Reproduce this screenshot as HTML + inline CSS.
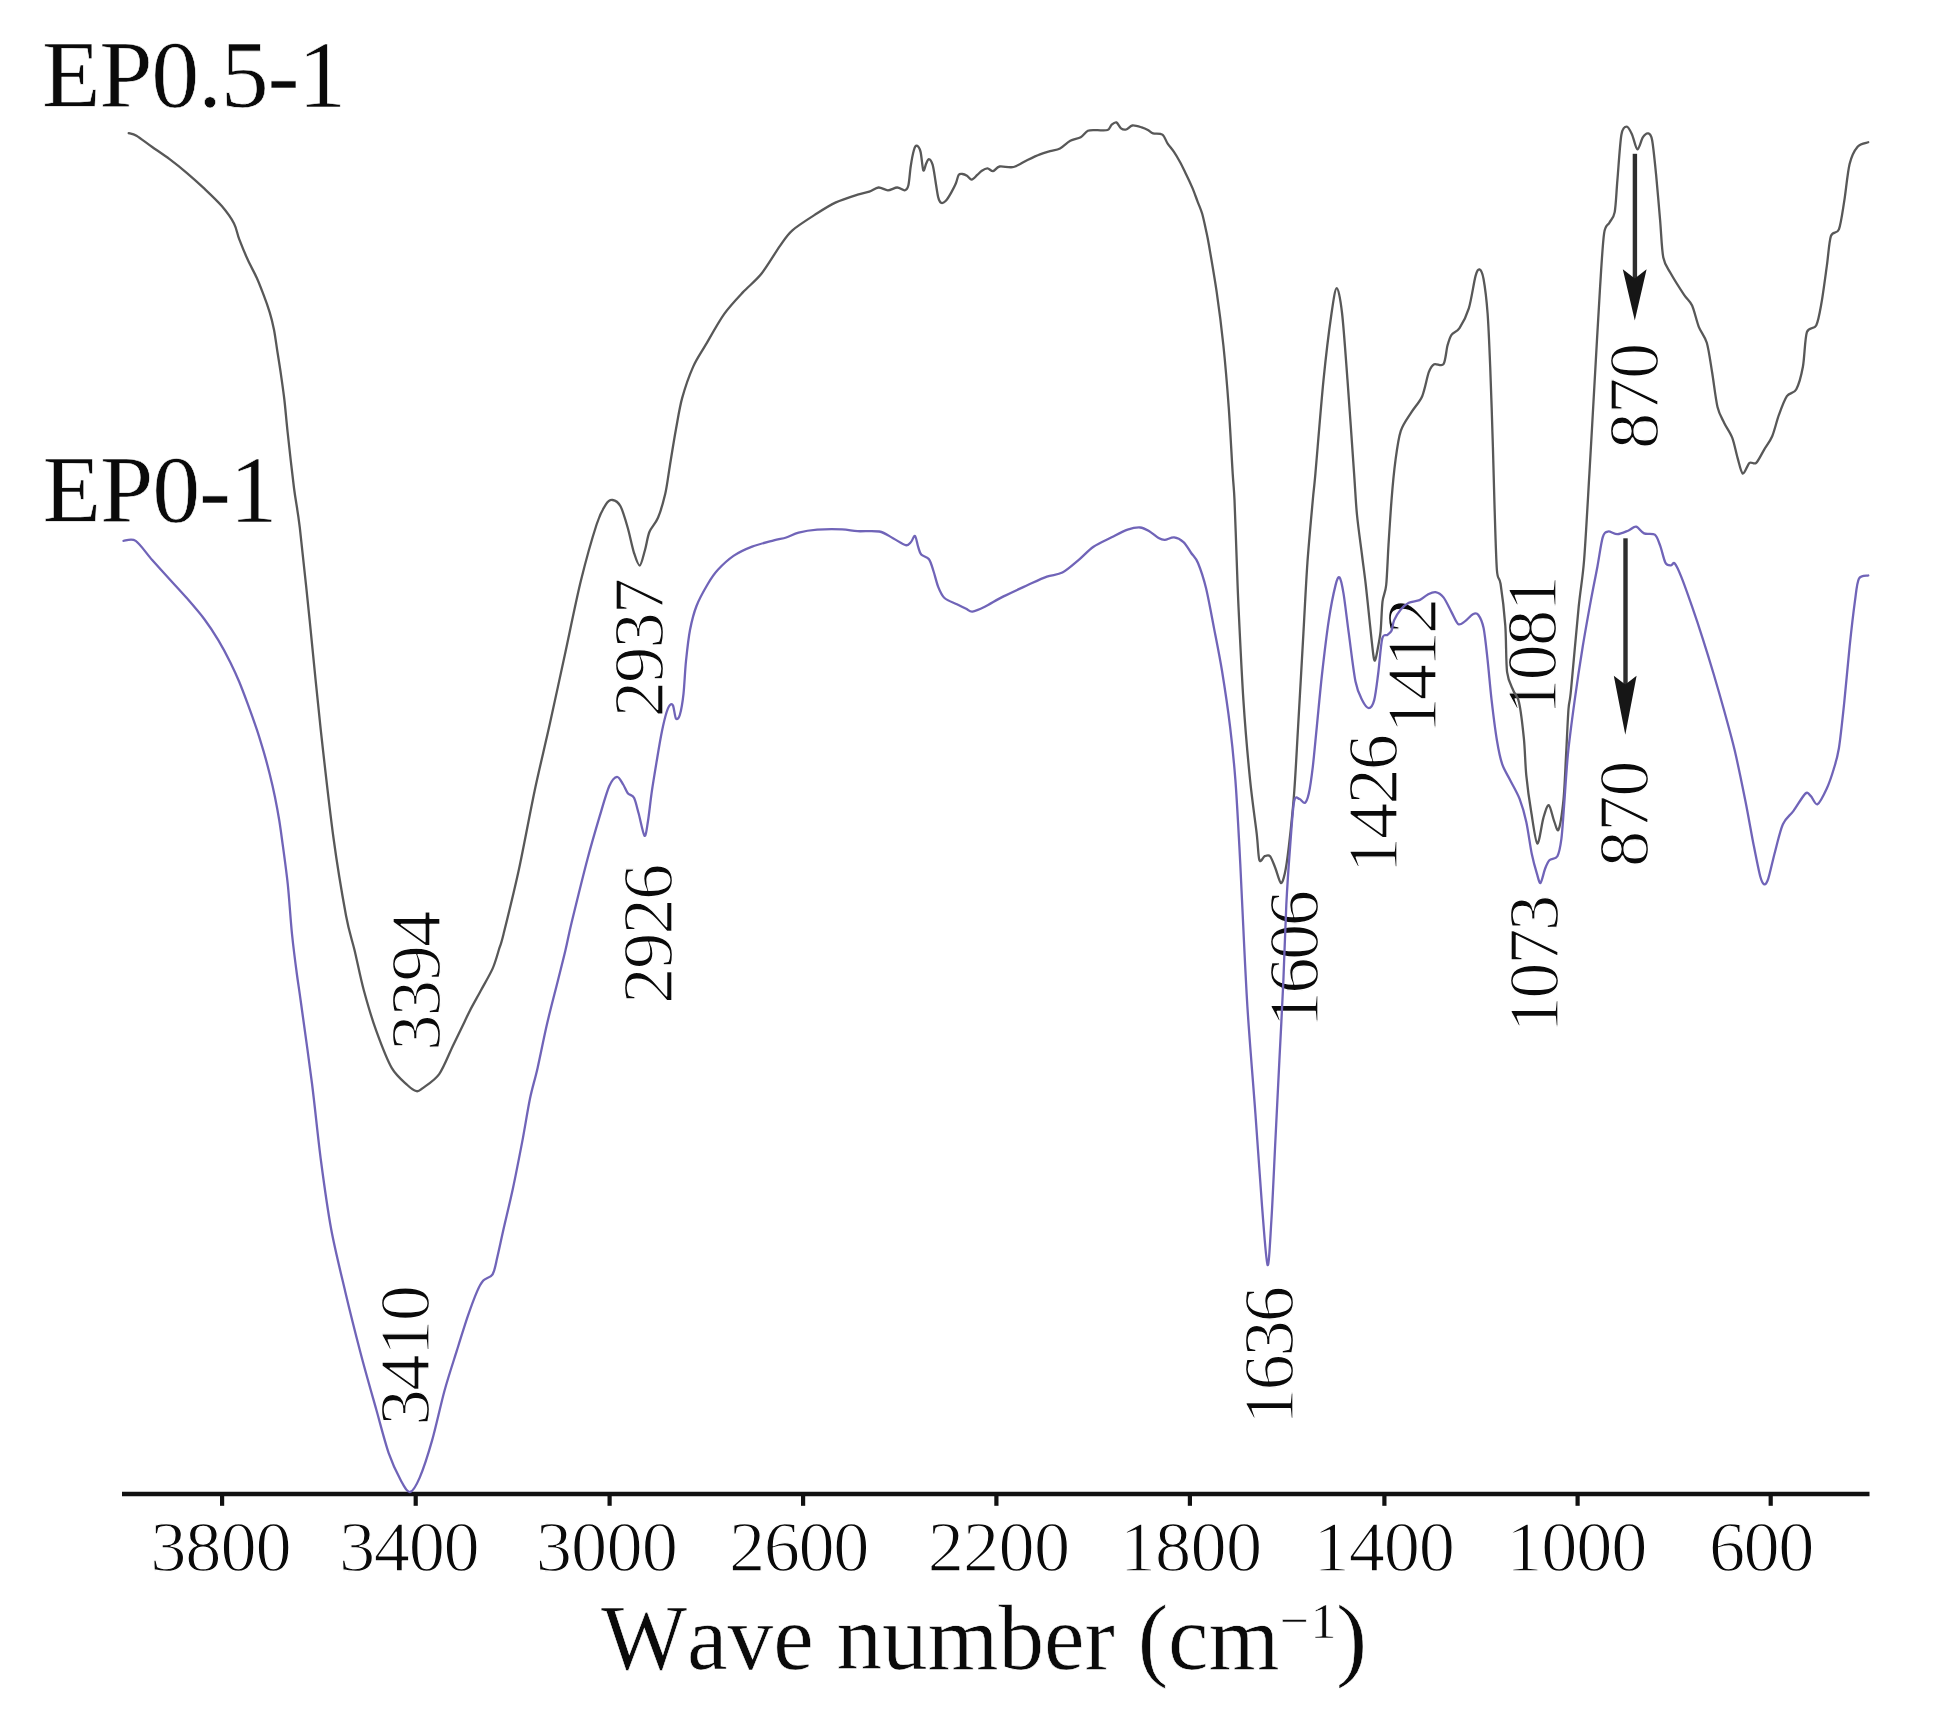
<!DOCTYPE html>
<html><head><meta charset="utf-8"><title>FTIR spectra</title>
<style>
html,body{margin:0;padding:0;background:#fff}
body{width:1934px;height:1724px;overflow:hidden}
svg{display:block;filter:blur(0.7px)}
text{font-family:"Liberation Serif","Times New Roman",serif;fill:#0a0a0a;font-kerning:none;stroke:#fff;stroke-width:0.6px}
.t text{stroke:#fff;stroke-width:1.3px;stroke-linejoin:round}
</style></head><body>
<svg width="1934" height="1724" viewBox="0 0 1934 1724">
<rect width="1934" height="1724" fill="#fff"/>
<line x1="122" y1="1494" x2="1869.5" y2="1494" stroke="#111" stroke-width="4.5"/>
<line x1="222.1" y1="1494" x2="222.1" y2="1505.8" stroke="#111" stroke-width="4.2"/><line x1="415.7" y1="1494" x2="415.7" y2="1505.8" stroke="#111" stroke-width="4.2"/><line x1="609.6" y1="1494" x2="609.6" y2="1505.8" stroke="#111" stroke-width="4.2"/><line x1="803.1" y1="1494" x2="803.1" y2="1505.8" stroke="#111" stroke-width="4.2"/><line x1="996.4" y1="1494" x2="996.4" y2="1505.8" stroke="#111" stroke-width="4.2"/><line x1="1189.9" y1="1494" x2="1189.9" y2="1505.8" stroke="#111" stroke-width="4.2"/><line x1="1384.4" y1="1494" x2="1384.4" y2="1505.8" stroke="#111" stroke-width="4.2"/><line x1="1577.6" y1="1494" x2="1577.6" y2="1505.8" stroke="#111" stroke-width="4.2"/><line x1="1770.7" y1="1494" x2="1770.7" y2="1505.8" stroke="#111" stroke-width="4.2"/>
<g id="arrows" fill="#161616" stroke="none">
<rect x="1632.7" y="153.8" width="4.4" height="126" fill="#2e2e2e"/>
<path d="M1634.8 320.6 L1622.8 269.2 L1634.8 278.6 L1646.6 269.2 Z"/>
<rect x="1623.3" y="538.3" width="4.4" height="147" fill="#2e2e2e"/>
<path d="M1625.3 734.8 L1613.8 675.8 L1625.3 684.4 L1636.6 675.8 Z"/>
</g>
<g class="t">
<text transform="translate(439.6 1050.8) rotate(-90)" font-size="72.5" letter-spacing="-1.65">3394</text>
<text transform="translate(429.2 1425.5) rotate(-90)" font-size="72.5" letter-spacing="-1.51">3410</text>
<text transform="translate(662.9 717.3) rotate(-90)" font-size="72.5" letter-spacing="-1.91">2937</text>
<text transform="translate(671.9 1003.7) rotate(-90)" font-size="72.5" letter-spacing="-1.65">2926</text>
<text transform="translate(1318.0 1027.5) rotate(-90)" font-size="72.5" letter-spacing="-2.51">1606</text>
<text transform="translate(1293.1 1424.7) rotate(-90)" font-size="72.5" letter-spacing="-2.14">1636</text>
<text transform="translate(1396.7 873.3) rotate(-90)" font-size="72.5" letter-spacing="-1.89">1426</text>
<text transform="translate(1436.1 733.6) rotate(-90)" font-size="72.5" letter-spacing="-3.02">1412</text>
<text transform="translate(1555.9 715.0) rotate(-90)" font-size="72.5" letter-spacing="-1.76">1081</text>
<text transform="translate(1558.0 1032.6) rotate(-90)" font-size="72.5" letter-spacing="-2.35">1073</text>
<text transform="translate(1657.8 448.9) rotate(-90)" font-size="72.5" letter-spacing="-1.32">870</text>
<text transform="translate(1647.8 867.0) rotate(-90)" font-size="72.5" letter-spacing="-1.11">870</text>
<text x="150.2" y="1571.4" font-size="72.4" letter-spacing="-1.10">3800</text>
<text x="339.0" y="1571.4" font-size="72.4" letter-spacing="-1.33">3400</text>
<text x="535.8" y="1571.4" font-size="72.4" letter-spacing="-0.89">3000</text>
<text x="729.1" y="1571.4" font-size="72.4" letter-spacing="-1.51">2600</text>
<text x="927.7" y="1571.4" font-size="72.4" letter-spacing="-0.76">2200</text>
<text x="1119.7" y="1571.4" font-size="72.4" letter-spacing="-0.78">1800</text>
<text x="1313.6" y="1571.4" font-size="72.4" letter-spacing="-1.16">1400</text>
<text x="1506.2" y="1571.4" font-size="72.4" letter-spacing="-1.18">1000</text>
<text x="1708.9" y="1571.4" font-size="72.4" letter-spacing="-1.55">600</text>
</g>
<text x="41.9" y="107.0" font-size="96.0" letter-spacing="-1.30">EP0.5-1</text>
<text x="42.6" y="521.5" font-size="96.0" letter-spacing="-1.25">EP0-1</text>
<text x="601" y="1668.5" font-size="93.5" textLength="678.5" lengthAdjust="spacingAndGlyphs">Wave number (cm</text>
<text x="1279.5" y="1638.4" font-size="51.5">−</text>
<text x="1310.5" y="1638.4" font-size="51.5">1</text>
<text x="1336" y="1668.5" font-size="93.5">)</text>
<path d="M128.7 133.1 C129.9 133.5 133.0 133.6 136.5 135.7 C140.0 137.8 147.2 143.5 152.2 147.0 C157.2 150.5 164.4 155.3 169.6 159.2 C174.8 163.1 181.8 168.7 187.0 173.1 C192.2 177.5 199.2 183.8 204.4 188.7 C209.6 193.6 217.4 200.9 221.8 206.1 C226.2 211.3 231.4 218.5 234.0 223.5 C236.6 228.5 237.1 233.7 239.2 239.2 C241.3 244.7 245.3 254.4 247.9 260.1 C250.5 265.8 254.2 272.3 256.6 277.5 C259.0 282.7 261.6 289.7 263.6 294.9 C265.6 300.1 268.1 307.1 269.7 312.3 C271.3 317.5 272.8 323.7 274.0 329.7 C275.2 335.7 276.4 345.5 277.5 352.3 C278.6 359.1 280.0 367.7 281.0 374.9 C282.0 382.1 283.4 391.4 284.4 400.0 C285.4 408.6 286.2 418.8 287.6 432.0 C289.0 445.2 292.2 473.7 294.0 488.0 C295.8 502.3 297.4 507.7 299.8 527.6 C302.2 547.5 306.6 590.4 309.7 620.7 C312.8 651.0 317.1 696.7 320.7 729.3 C324.3 761.9 329.7 810.1 333.5 838.0 C337.3 865.9 342.9 898.7 346.0 915.5 C349.1 932.3 351.8 938.8 354.5 950.0 C357.2 961.2 360.5 978.2 363.8 990.3 C367.1 1002.4 372.0 1019.1 376.2 1030.7 C380.4 1042.3 387.0 1059.8 391.7 1067.9 C396.4 1076.0 403.6 1081.5 407.3 1085.0 C411.0 1088.5 414.3 1090.7 416.6 1091.2 C418.9 1091.7 419.4 1090.7 422.8 1088.1 C426.2 1085.5 434.7 1080.4 439.2 1074.1 C443.7 1067.8 448.9 1054.1 452.7 1046.2 C456.5 1038.3 462.1 1026.8 464.7 1021.4 C467.3 1016.0 467.6 1015.1 470.0 1010.4 C472.4 1005.7 477.6 996.6 481.0 990.3 C484.4 984.0 489.9 974.6 492.6 968.6 C495.3 962.6 497.2 955.2 498.8 950.0 C500.4 944.8 500.5 946.4 503.5 934.2 C506.5 922.1 514.4 890.4 519.0 869.0 C523.6 847.6 529.9 813.3 534.5 791.4 C539.1 769.5 545.4 744.1 550.0 723.1 C554.6 702.1 560.9 673.1 565.5 651.7 C570.1 630.3 576.3 599.4 581.0 580.3 C585.7 561.2 592.9 535.9 596.6 524.5 C600.3 513.1 603.5 508.0 605.9 504.3 C608.3 500.6 610.3 499.7 612.5 500.0 C614.7 500.3 618.2 502.1 620.5 506.3 C622.8 510.5 625.8 521.0 627.8 528.0 C629.8 535.0 632.2 547.2 634.0 552.8 C635.8 558.4 638.1 565.9 639.8 565.5 C641.4 565.1 643.5 555.1 645.0 550.0 C646.5 544.9 647.5 536.6 649.5 531.8 C651.5 527.0 655.6 523.5 658.0 517.8 C660.4 512.1 663.4 501.8 665.2 494.1 C667.0 486.4 668.2 476.0 669.8 466.2 C671.4 456.4 674.1 439.2 676.0 429.0 C677.9 418.8 679.6 407.2 682.2 397.9 C684.8 388.6 689.6 374.8 693.1 366.9 C696.6 359.0 700.9 353.1 705.5 345.2 C710.1 337.3 718.5 322.0 724.1 314.1 C729.7 306.2 737.2 298.4 742.8 292.4 C748.4 286.4 755.8 280.8 761.4 273.8 C767.0 266.8 775.4 252.4 780.0 245.9 C784.6 239.4 786.8 235.2 792.4 230.3 C798.0 225.4 810.7 217.5 817.2 213.3 C823.7 209.1 829.8 205.2 835.9 202.4 C842.0 199.6 852.6 196.3 857.6 194.7 C862.6 193.1 866.1 192.8 869.3 191.7 C872.4 190.6 875.8 187.7 878.6 187.5 C881.4 187.3 885.1 190.3 887.9 190.3 C890.7 190.3 894.7 187.5 897.2 187.5 C899.7 187.5 903.0 190.6 904.7 190.3 C906.4 190.0 907.5 188.8 908.4 185.2 C909.3 181.6 909.9 171.8 910.7 166.5 C911.5 161.2 913.1 152.9 914.0 149.8 C914.9 146.7 915.8 145.3 916.8 145.6 C917.8 145.9 919.5 147.9 920.5 151.6 C921.5 155.3 922.5 168.5 923.3 170.3 C924.1 172.1 925.3 165.4 926.1 163.7 C926.9 162.0 927.9 158.9 928.9 159.1 C929.9 159.2 931.6 161.5 932.6 164.7 C933.6 167.9 934.6 175.6 935.4 180.5 C936.2 185.4 937.4 194.0 938.2 197.3 C939.0 200.6 939.9 202.2 941.0 202.8 C942.1 203.4 944.1 202.5 945.6 201.0 C947.1 199.5 949.7 195.3 951.2 192.6 C952.7 189.9 954.8 186.0 955.9 183.3 C957.0 180.6 957.7 176.3 958.7 174.9 C959.7 173.5 961.2 173.9 962.4 174.0 C963.6 174.1 965.6 175.0 967.0 175.8 C968.4 176.6 970.2 179.7 971.7 179.6 C973.2 179.5 975.8 176.2 977.3 174.9 C978.8 173.6 980.4 171.7 981.9 170.7 C983.4 169.7 985.8 168.3 987.5 168.4 C989.2 168.5 991.3 171.5 993.1 171.2 C994.9 170.9 996.5 167.1 999.6 166.5 C1002.7 165.9 1009.4 168.0 1013.6 167.0 C1017.8 166.0 1023.5 161.9 1027.5 160.0 C1031.5 158.1 1036.6 155.7 1040.0 154.4 C1043.4 153.1 1047.0 152.1 1050.0 151.2 C1053.0 150.3 1057.0 150.2 1060.0 148.6 C1063.0 147.0 1067.2 142.5 1070.3 140.8 C1073.4 139.1 1078.1 138.7 1080.7 137.2 C1083.3 135.7 1085.5 131.9 1087.9 130.8 C1090.3 129.8 1094.0 130.3 1097.0 130.2 C1100.0 130.1 1105.4 130.8 1107.6 130.0 C1109.8 129.2 1110.4 125.7 1111.7 124.6 C1113.0 123.5 1115.0 121.8 1116.4 122.4 C1117.8 123.0 1119.5 127.3 1121.0 128.4 C1122.5 129.5 1124.5 129.9 1126.2 129.5 C1127.9 129.1 1130.1 125.8 1132.4 125.5 C1134.7 125.2 1139.4 126.7 1141.7 127.4 C1144.0 128.1 1146.2 129.1 1147.9 130.0 C1149.6 130.9 1150.9 132.7 1153.1 133.4 C1155.3 134.1 1160.2 133.1 1162.4 134.6 C1164.6 136.1 1165.8 140.8 1167.5 143.4 C1169.2 146.0 1171.9 148.9 1173.8 151.7 C1175.7 154.5 1178.1 158.6 1180.0 162.0 C1181.9 165.4 1184.3 170.6 1186.2 174.5 C1188.1 178.4 1190.7 183.9 1192.4 187.9 C1194.1 191.9 1196.0 197.4 1197.5 201.3 C1199.0 205.2 1201.0 209.6 1202.2 213.8 C1203.4 218.0 1204.8 224.7 1205.8 229.3 C1206.8 234.0 1207.3 235.4 1208.9 244.8 C1210.5 254.2 1214.5 277.0 1216.7 292.1 C1218.9 307.2 1221.6 328.3 1223.4 345.5 C1225.2 362.7 1227.3 387.7 1228.7 406.9 C1230.1 426.1 1231.8 459.6 1232.7 473.6 C1233.6 487.6 1233.9 487.0 1234.5 500.0 C1235.1 513.0 1236.1 544.0 1236.7 560.0 C1237.3 576.0 1237.5 585.7 1238.5 606.7 C1239.5 627.7 1241.7 674.1 1243.4 700.1 C1245.1 726.1 1248.1 760.2 1250.1 780.2 C1252.1 800.2 1255.3 821.6 1256.7 833.6 C1258.1 845.6 1258.2 856.8 1259.4 860.2 C1260.6 863.6 1263.1 856.8 1264.7 856.2 C1266.3 855.6 1268.5 854.4 1270.1 856.2 C1271.7 858.0 1273.8 864.2 1275.4 868.2 C1277.0 872.2 1279.4 882.1 1280.8 882.9 C1282.2 883.7 1283.6 879.0 1284.8 873.6 C1286.0 868.2 1287.4 858.9 1288.8 846.9 C1290.2 834.9 1292.7 811.5 1294.1 793.5 C1295.5 775.5 1296.7 750.8 1298.1 726.8 C1299.5 702.8 1302.0 658.0 1303.4 633.4 C1304.8 608.8 1306.0 583.0 1307.4 563.0 C1308.8 543.0 1311.6 513.4 1312.8 500.0 C1314.0 486.6 1313.8 491.6 1315.4 473.6 C1317.0 455.6 1321.1 404.2 1323.5 380.2 C1325.9 356.2 1329.5 327.3 1331.5 313.5 C1333.5 299.7 1335.2 288.1 1336.8 288.1 C1338.4 288.1 1340.5 299.7 1342.1 313.5 C1343.7 327.3 1345.7 356.2 1347.5 380.2 C1349.3 404.2 1352.7 453.4 1354.1 473.6 C1355.5 493.8 1355.8 502.8 1357.0 515.0 C1358.2 527.2 1360.7 544.5 1362.0 555.0 C1363.3 565.5 1364.7 575.2 1365.8 585.0 C1366.9 594.8 1368.4 609.6 1369.5 620.0 C1370.6 630.4 1372.4 647.9 1373.2 654.0 C1374.0 660.1 1374.4 661.1 1375.0 660.5 C1375.6 659.9 1376.7 654.4 1377.5 650.0 C1378.3 645.6 1379.8 638.6 1380.6 631.4 C1381.3 624.2 1381.7 608.7 1382.5 601.7 C1383.3 594.7 1385.3 593.5 1386.2 585.0 C1387.1 576.5 1387.7 557.7 1388.5 545.0 C1389.3 532.3 1390.5 513.0 1391.5 500.3 C1392.5 487.6 1394.1 470.6 1395.5 460.2 C1396.9 449.8 1398.4 438.1 1400.8 430.9 C1403.2 423.7 1408.3 417.4 1411.5 412.2 C1414.7 407.0 1419.6 402.2 1422.2 396.2 C1424.8 390.2 1427.0 377.0 1428.8 372.2 C1430.6 367.4 1432.0 365.4 1434.2 364.2 C1436.4 363.0 1441.5 367.0 1443.5 364.2 C1445.5 361.4 1446.3 349.9 1447.5 345.5 C1448.7 341.1 1449.7 337.4 1451.5 334.8 C1453.3 332.2 1456.9 332.2 1459.5 328.2 C1462.1 324.2 1466.5 315.9 1468.9 308.1 C1471.3 300.3 1473.9 281.9 1475.5 276.1 C1477.1 270.3 1478.3 269.0 1479.5 269.4 C1480.7 269.8 1482.3 272.2 1483.5 278.8 C1484.7 285.4 1486.6 300.3 1487.6 313.5 C1488.6 326.7 1489.4 346.8 1490.2 366.8 C1491.0 386.8 1492.3 426.2 1492.9 446.9 C1493.5 467.6 1493.9 486.5 1494.5 505.0 C1495.1 523.5 1496.0 558.1 1496.9 570.0 C1497.8 581.9 1499.3 575.6 1500.6 584.0 C1501.9 592.4 1504.3 612.5 1505.3 625.7 C1506.3 638.9 1505.9 662.4 1507.1 672.1 C1508.3 681.9 1511.6 686.2 1513.4 690.7 C1515.2 695.2 1517.4 695.0 1519.0 702.2 C1520.6 709.4 1522.8 727.7 1523.9 738.7 C1525.0 749.7 1525.2 764.3 1526.3 775.3 C1527.4 786.3 1529.5 801.6 1531.2 811.8 C1532.9 822.0 1535.5 842.6 1537.3 843.5 C1539.1 844.4 1541.7 823.7 1543.4 817.9 C1545.1 812.1 1547.2 804.5 1548.8 805.1 C1550.4 805.7 1552.8 817.9 1554.3 821.6 C1555.8 825.3 1557.2 832.8 1558.6 829.5 C1560.0 826.2 1562.3 811.4 1563.5 799.6 C1564.7 787.8 1565.5 764.5 1566.3 750.9 C1567.0 737.3 1567.8 718.1 1568.5 709.0 C1569.2 699.9 1569.5 705.3 1571.0 690.0 C1572.5 674.7 1576.7 626.2 1578.7 606.7 C1580.7 587.2 1582.5 580.0 1584.1 560.0 C1585.7 540.0 1587.8 500.6 1589.4 473.6 C1591.0 446.6 1593.1 408.2 1594.7 380.2 C1596.3 352.2 1598.7 308.8 1600.1 286.8 C1601.5 264.8 1602.7 243.0 1604.1 233.4 C1605.5 223.8 1607.8 225.9 1609.4 222.7 C1611.0 219.5 1613.5 218.5 1614.7 212.1 C1615.9 205.7 1616.4 191.7 1617.4 180.1 C1618.4 168.5 1620.0 142.7 1621.4 134.7 C1622.8 126.7 1625.2 126.7 1626.8 126.7 C1628.4 126.7 1630.5 131.3 1632.1 134.7 C1633.7 138.1 1635.8 149.0 1637.4 149.4 C1639.0 149.8 1641.2 139.8 1642.8 137.4 C1644.4 135.0 1646.7 133.0 1648.1 133.4 C1649.5 133.8 1650.9 133.8 1652.1 140.0 C1653.3 146.2 1654.9 162.7 1656.1 174.7 C1657.3 186.7 1659.0 207.7 1660.1 220.1 C1661.2 232.5 1661.7 249.4 1663.3 257.4 C1664.9 265.4 1667.7 267.9 1670.8 273.5 C1673.9 279.1 1680.9 290.0 1684.1 294.8 C1687.3 299.6 1689.9 300.7 1692.1 305.5 C1694.3 310.3 1696.6 321.2 1698.8 326.8 C1701.0 332.4 1704.8 336.0 1706.8 342.8 C1708.8 349.6 1710.5 362.6 1712.1 372.2 C1713.7 381.8 1715.7 399.3 1717.5 406.9 C1719.3 414.5 1722.0 418.3 1724.2 422.9 C1726.4 427.5 1730.2 432.4 1732.2 437.6 C1734.2 442.8 1735.9 452.2 1737.5 457.6 C1739.1 463.0 1741.0 472.8 1742.8 473.6 C1744.6 474.4 1747.5 464.5 1749.5 462.9 C1751.5 461.3 1754.0 464.9 1756.2 462.9 C1758.4 460.9 1761.8 453.6 1764.2 449.6 C1766.6 445.6 1770.0 441.4 1772.2 436.2 C1774.4 431.0 1776.7 420.9 1778.9 414.9 C1781.1 408.9 1784.3 400.0 1786.9 396.2 C1789.5 392.4 1793.8 393.9 1796.2 389.5 C1798.6 385.1 1801.3 375.4 1802.9 366.8 C1804.5 358.2 1804.9 338.4 1806.9 332.2 C1808.9 326.0 1814.0 329.9 1816.2 325.5 C1818.4 321.1 1819.9 311.8 1821.5 302.8 C1823.1 293.8 1825.5 275.4 1826.9 265.4 C1828.3 255.4 1829.1 241.5 1830.9 236.1 C1832.7 230.7 1836.9 234.6 1838.9 229.4 C1840.9 224.2 1842.6 211.2 1844.2 201.4 C1845.8 191.6 1847.6 172.2 1849.6 164.0 C1851.6 155.8 1854.8 150.0 1857.6 146.7 C1860.4 143.4 1866.6 142.9 1868.2 142.2" fill="none" stroke="#585858" stroke-width="2.3" stroke-linejoin="round" stroke-linecap="round"/>
<path d="M123.5 540.9 C125.3 540.9 131.4 538.0 135.7 540.9 C140.0 543.8 147.1 554.3 152.2 560.0 C157.3 565.7 164.4 573.5 169.6 579.2 C174.8 584.9 181.8 592.3 187.0 598.3 C192.2 604.3 199.7 612.9 204.4 619.2 C209.1 625.5 214.4 633.6 218.3 640.1 C222.2 646.6 227.4 656.4 230.5 662.7 C233.6 669.0 236.6 675.5 239.2 681.8 C241.8 688.1 245.3 697.4 247.9 704.4 C250.5 711.4 254.2 721.8 256.6 728.8 C259.0 735.8 261.6 744.6 263.6 751.4 C265.6 758.2 268.0 767.2 269.7 774.0 C271.4 780.8 273.5 789.8 274.9 796.7 C276.3 803.6 278.2 813.8 279.2 820.0 C280.2 826.2 280.5 828.3 281.8 838.0 C283.1 847.7 286.3 870.1 287.8 884.5 C289.3 898.9 290.6 920.4 292.0 934.0 C293.4 947.6 295.6 964.6 297.0 975.0 C298.4 985.4 298.8 986.7 301.0 1003.0 C303.2 1019.3 309.0 1059.8 312.0 1083.5 C315.0 1107.2 318.1 1139.1 321.0 1161.0 C323.9 1182.9 327.6 1209.7 331.2 1229.3 C334.8 1248.9 340.8 1272.8 345.2 1291.4 C349.6 1310.0 356.1 1335.8 360.7 1353.5 C365.3 1371.2 372.0 1394.4 376.2 1409.3 C380.4 1424.2 384.9 1442.1 388.6 1452.8 C392.3 1463.5 397.8 1474.8 401.0 1480.7 C404.2 1486.6 407.2 1492.5 410.0 1492.0 C412.8 1491.5 416.4 1485.3 419.7 1477.6 C423.0 1469.9 428.4 1453.4 432.1 1440.4 C435.8 1427.4 440.8 1404.2 444.5 1390.7 C448.2 1377.2 453.4 1361.6 456.9 1350.4 C460.4 1339.2 464.8 1325.0 467.8 1316.2 C470.8 1307.4 474.8 1296.8 477.1 1291.4 C479.4 1286.0 481.0 1283.1 483.3 1280.5 C485.6 1277.9 490.5 1277.8 492.6 1274.3 C494.7 1270.8 495.7 1264.0 497.3 1257.3 C498.9 1250.5 501.2 1239.5 503.5 1229.3 C505.8 1219.1 510.0 1202.0 512.8 1189.0 C515.6 1176.0 519.5 1155.9 522.1 1142.4 C524.7 1128.9 527.6 1110.2 529.9 1099.0 C532.2 1087.8 535.1 1079.1 537.6 1067.9 C540.1 1056.7 543.9 1037.5 546.9 1024.5 C549.9 1011.5 555.0 992.2 557.8 981.0 C560.6 969.8 563.4 958.9 565.5 950.0 C567.6 941.1 568.5 935.2 571.8 921.7 C575.1 908.2 583.1 875.5 587.3 859.7 C591.5 843.9 596.4 827.3 599.7 816.2 C603.0 805.1 606.7 791.9 609.3 786.0 C611.9 780.1 614.9 777.0 617.0 776.8 C619.1 776.6 621.6 782.0 623.2 784.5 C624.8 787.0 626.2 791.2 627.8 793.2 C629.4 795.2 632.4 794.8 634.0 797.8 C635.6 800.8 637.0 807.6 638.6 813.3 C640.2 819.0 643.1 834.6 644.5 835.8 C645.9 837.0 646.9 827.6 648.0 821.0 C649.1 814.4 650.4 801.1 651.8 791.6 C653.2 782.1 655.8 766.6 657.3 757.5 C658.8 748.4 660.6 737.8 662.0 731.0 C663.4 724.2 665.3 716.4 666.5 712.5 C667.7 708.6 669.0 706.0 670.0 705.0 C671.0 704.0 672.1 703.5 673.0 705.5 C673.9 707.5 675.0 717.2 676.0 718.6 C677.0 720.0 678.7 718.7 679.8 715.0 C680.9 711.3 682.6 701.9 683.5 693.8 C684.4 685.7 685.0 670.6 686.0 661.0 C687.0 651.4 688.4 638.2 690.0 630.0 C691.6 621.8 693.8 612.9 696.5 606.0 C699.2 599.1 704.6 589.4 707.8 584.0 C711.0 578.6 714.0 574.0 717.9 569.8 C721.8 565.6 728.4 559.4 733.5 555.9 C738.6 552.4 746.1 548.9 752.1 546.6 C758.1 544.3 768.7 541.7 773.8 540.3 C778.9 538.9 782.5 538.7 786.2 537.5 C789.9 536.3 794.0 533.8 798.6 532.6 C803.2 531.4 810.7 530.1 817.2 529.6 C823.7 529.1 836.0 529.1 842.1 529.3 C848.2 529.5 852.0 530.9 857.6 531.2 C863.2 531.5 874.0 530.5 879.3 531.5 C884.6 532.5 889.0 536.1 893.0 538.2 C897.0 540.3 903.0 544.6 905.7 545.2 C908.4 545.8 909.6 543.4 911.0 542.0 C912.4 540.6 913.9 535.2 915.0 535.9 C916.1 536.6 917.2 543.9 918.1 546.7 C919.0 549.5 919.6 552.6 921.2 554.5 C922.8 556.4 927.1 556.7 929.0 559.2 C930.9 561.8 932.2 567.3 933.6 571.5 C935.0 575.7 936.7 583.1 938.3 587.1 C939.9 591.1 941.7 595.4 944.5 598.0 C947.3 600.6 953.6 602.6 956.9 604.2 C960.2 605.8 963.9 607.7 966.2 608.8 C968.5 609.9 969.6 611.9 972.4 611.6 C975.2 611.3 980.1 609.1 984.8 606.8 C989.5 604.5 997.0 599.7 1003.5 596.4 C1010.0 593.1 1021.8 587.8 1028.3 584.8 C1034.8 581.8 1041.8 578.4 1046.9 576.6 C1052.0 574.8 1057.8 575.0 1062.4 572.6 C1067.1 570.2 1073.2 564.6 1077.9 560.7 C1082.6 556.8 1088.4 550.3 1093.5 546.8 C1098.6 543.3 1107.0 539.7 1112.1 537.1 C1117.2 534.5 1123.4 531.1 1127.6 529.7 C1131.8 528.3 1136.7 527.3 1140.0 527.5 C1143.3 527.7 1146.5 529.6 1149.3 531.2 C1152.1 532.8 1156.3 536.7 1158.6 538.0 C1160.9 539.3 1162.5 540.0 1164.8 539.9 C1167.1 539.8 1171.3 537.1 1174.1 537.4 C1176.9 537.7 1180.9 539.8 1183.5 542.1 C1186.1 544.4 1189.0 549.9 1191.2 553.0 C1193.4 556.1 1195.8 557.7 1198.0 563.0 C1200.2 568.3 1203.6 578.3 1206.0 588.1 C1208.4 597.9 1211.6 615.7 1214.0 628.1 C1216.4 640.5 1219.6 656.0 1222.0 670.8 C1224.4 685.6 1228.1 710.4 1230.1 726.8 C1232.1 743.2 1234.0 762.2 1235.4 780.2 C1236.8 798.2 1238.4 828.9 1239.4 846.9 C1240.4 864.9 1240.8 876.0 1242.0 900.0 C1243.2 924.0 1245.4 974.7 1247.4 1006.7 C1249.4 1038.7 1253.2 1083.5 1255.4 1113.5 C1257.6 1143.5 1260.3 1184.2 1262.1 1206.9 C1263.9 1229.6 1266.2 1263.0 1267.6 1265.0 C1269.0 1267.0 1270.2 1238.9 1271.4 1220.2 C1272.6 1201.5 1274.2 1164.2 1275.4 1140.2 C1276.6 1116.2 1278.2 1084.1 1279.4 1060.1 C1280.6 1036.1 1282.4 1003.3 1283.4 980.0 C1284.4 956.7 1285.3 925.0 1286.3 905.0 C1287.3 885.0 1288.9 862.4 1290.1 846.9 C1291.3 831.4 1292.7 808.7 1294.1 801.5 C1295.5 794.3 1297.8 798.7 1299.4 798.9 C1301.0 799.1 1303.4 803.7 1304.8 802.9 C1306.2 802.1 1307.6 798.9 1308.8 793.5 C1310.0 788.1 1311.6 776.8 1312.8 766.8 C1314.0 756.8 1315.4 740.8 1316.8 726.8 C1318.2 712.8 1320.3 689.5 1322.1 673.5 C1323.9 657.5 1326.8 633.3 1328.8 620.1 C1330.8 606.9 1333.9 591.8 1335.5 585.4 C1337.1 579.0 1338.3 576.2 1339.5 577.4 C1340.7 578.6 1342.1 585.0 1343.5 593.4 C1344.9 601.8 1347.0 620.2 1348.8 633.4 C1350.6 646.6 1353.5 671.5 1355.5 681.5 C1357.5 691.5 1360.1 696.1 1362.1 700.1 C1364.1 704.1 1367.0 708.1 1368.8 708.1 C1370.6 708.1 1372.8 705.3 1374.2 700.1 C1375.6 694.9 1377.0 682.7 1378.2 673.5 C1379.4 664.3 1380.8 644.6 1382.2 638.8 C1383.6 633.0 1386.1 636.0 1387.5 634.8 C1388.9 633.6 1390.5 633.0 1391.5 630.8 C1392.5 628.6 1392.8 623.3 1394.2 620.1 C1395.6 616.9 1398.6 612.0 1400.8 609.4 C1403.0 606.8 1406.0 604.1 1408.8 602.7 C1411.6 601.3 1416.7 601.3 1419.5 600.1 C1422.3 598.9 1425.1 595.9 1427.5 594.7 C1429.9 593.5 1433.1 591.7 1435.5 592.1 C1437.9 592.5 1441.1 594.4 1443.5 597.4 C1445.9 600.4 1449.3 608.1 1451.5 612.1 C1453.7 616.1 1456.2 622.7 1458.2 624.1 C1460.2 625.5 1462.7 622.9 1464.9 621.4 C1467.1 619.9 1470.9 615.2 1472.9 614.2 C1474.9 613.2 1476.6 612.6 1478.2 614.7 C1479.8 616.8 1482.2 621.3 1483.6 628.1 C1485.0 634.9 1486.4 649.3 1487.6 660.1 C1488.8 670.9 1490.2 688.1 1491.6 700.1 C1493.0 712.1 1495.3 730.6 1496.9 740.2 C1498.5 749.8 1500.2 758.2 1502.2 764.2 C1504.2 770.2 1507.6 775.0 1510.2 780.2 C1512.8 785.4 1517.2 792.6 1519.6 798.9 C1522.0 805.2 1524.5 813.7 1526.3 822.0 C1528.1 830.3 1530.2 846.3 1531.8 854.0 C1533.4 861.7 1535.6 869.3 1536.9 873.6 C1538.2 877.9 1539.3 883.6 1540.5 882.9 C1541.7 882.2 1543.7 872.4 1545.0 869.0 C1546.3 865.6 1547.5 862.1 1549.4 860.2 C1551.3 858.3 1555.6 859.4 1557.4 856.2 C1559.2 853.0 1560.4 846.3 1561.4 838.9 C1562.4 831.5 1563.0 819.7 1564.0 806.9 C1565.0 794.1 1566.4 769.5 1568.0 753.5 C1569.6 737.5 1572.5 716.1 1574.7 700.1 C1576.9 684.1 1580.3 661.6 1582.7 646.8 C1585.1 632.0 1588.5 613.4 1590.7 601.4 C1592.9 589.4 1595.6 576.3 1597.4 566.7 C1599.2 557.1 1601.1 542.7 1602.7 537.4 C1604.3 532.1 1605.9 532.0 1608.1 531.5 C1610.3 531.0 1614.4 534.3 1617.4 534.2 C1620.4 534.1 1625.3 531.8 1628.1 530.7 C1630.9 529.6 1633.7 526.3 1636.1 526.7 C1638.5 527.1 1641.3 532.2 1644.1 533.4 C1646.9 534.6 1652.4 532.9 1654.8 534.7 C1657.2 536.5 1658.5 541.2 1660.1 545.4 C1661.7 549.6 1663.8 559.7 1665.4 562.7 C1667.0 565.7 1669.4 565.3 1670.8 565.4 C1672.2 565.5 1673.2 561.7 1674.8 563.5 C1676.4 565.3 1678.9 570.9 1681.5 577.4 C1684.1 583.9 1688.9 597.5 1692.1 606.7 C1695.3 615.9 1699.6 628.8 1702.8 638.8 C1706.0 648.8 1710.3 662.7 1713.5 673.5 C1716.7 684.3 1721.0 699.2 1724.2 710.8 C1727.4 722.4 1731.6 737.2 1734.8 750.8 C1738.0 764.4 1742.7 787.5 1745.5 801.5 C1748.3 815.5 1751.3 833.0 1753.5 844.2 C1755.7 855.4 1758.6 870.3 1760.2 876.3 C1761.8 882.3 1763.0 883.9 1764.2 884.3 C1765.4 884.7 1766.6 883.7 1768.2 878.9 C1769.8 874.1 1772.7 860.4 1774.9 852.2 C1777.1 844.0 1780.1 830.4 1782.9 824.2 C1785.7 818.0 1790.1 815.5 1793.5 810.9 C1796.9 806.3 1802.9 795.7 1805.5 793.5 C1808.1 791.3 1809.1 794.6 1810.9 796.2 C1812.7 797.8 1815.1 805.4 1817.5 804.2 C1819.9 803.0 1824.5 793.4 1826.9 788.2 C1829.3 783.0 1831.8 775.5 1833.6 769.5 C1835.4 763.5 1837.3 758.2 1838.9 748.2 C1840.5 738.2 1842.6 718.0 1844.2 702.8 C1845.8 687.6 1848.0 662.0 1849.6 646.8 C1851.2 631.6 1853.5 611.6 1854.9 601.4 C1856.3 591.2 1856.9 582.6 1858.9 578.7 C1860.9 574.8 1866.8 576.0 1868.2 575.5" fill="none" stroke="#7064b8" stroke-width="2.3" stroke-linejoin="round" stroke-linecap="round"/>
</svg>
</body></html>
